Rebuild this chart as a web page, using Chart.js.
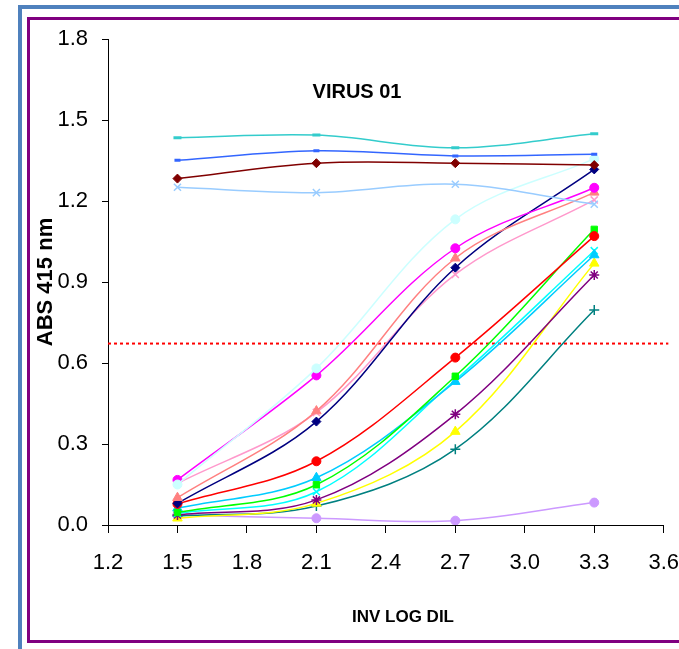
<!DOCTYPE html>
<html>
<head>
<meta charset="utf-8">
<script src="https://cdn.jsdelivr.net/npm/chart.js@4.4.1/dist/chart.umd.min.js"></script>
<style>
  html, body { margin: 0; padding: 0; background: #fff; overflow: hidden; }
  #wrap { position: relative; width: 679px; height: 649px; overflow: hidden; }
  #outer { position: absolute; left: 18px; top: 5px; width: 700px; height: 700px;
    border-left: 4px solid #4f81bd; border-top: 4px solid #4f81bd; }
  #inner { position: absolute; left: 27px; top: 17px; width: 700px; height: 620px;
    border-left: 3px solid #800080; border-top: 3px solid #800080; border-bottom: 3px solid #800080; }
  canvas { position: absolute; left: 0; top: 0; }
</style>
</head>
<body>
<div id="wrap">
  <div id="outer"></div>
  <div id="inner"></div>
  <!-- the original picture is cropped on the right, so the canvas runs past the window -->
  <canvas id="chart" width="696" height="649"></canvas>
</div>
<script>
// dilutions (x) and readings per sample
const dilutions = [1.5, 2.1, 2.7, 3.3];
const xTickValues = [1.2, 1.5, 1.8, 2.1, 2.4, 2.7, 3.0, 3.3, 3.6];
const yTickValues = [0.0, 0.3, 0.6, 0.9, 1.2, 1.5, 1.8];

const sTurq     = [1.434, 1.444, 1.397, 1.449];
const sBlue     = [1.351, 1.386, 1.367, 1.373];
const sMaroon   = [1.283, 1.340, 1.340, 1.333];
const sPaleBlue = [1.251, 1.231, 1.262, 1.188];
const sIce      = [0.150, 0.580, 1.132, 1.356];
const sMagenta  = [0.167, 0.554, 1.025, 1.249];
const sSalmon   = [0.101, 0.422, 0.988, 1.232];
const sNavy     = [0.080, 0.383, 0.953, 1.317];
const sPink     = [0.154, 0.417, 0.928, 1.204];
const sRed      = [0.078, 0.236, 0.620, 1.070];
const sGreen    = [0.046, 0.149, 0.551, 1.095];
const sSky      = [0.062, 0.175, 0.531, 1.000];
const sCyan     = [0.043, 0.123, 0.537, 1.016];
const sPurple   = [0.037, 0.093, 0.410, 0.926];
const sYellow   = [0.025, 0.080, 0.346, 0.969];
const sTeal     = [0.033, 0.070, 0.281, 0.796];
const sLavender = [0.037, 0.025, 0.016, 0.083];

const cutoff = 0.672;
const cutoffRange = [1.2, 3.62];

function pts(vals) {
  return vals.map((v, i) => ({ x: dilutions[i], y: v }));
}

function series(vals, color, style, radius, width) {
  return {
    data: pts(vals),
    borderColor: color,
    backgroundColor: color,
    borderWidth: 1.5,
    pointStyle: style,
    pointRadius: radius,
    pointBorderWidth: width || 1,
    pointBorderColor: color,
    pointBackgroundColor: color,
    tension: 0.35
  };
}

const datasets = [
  series(sTurq, "#33cccc", "line", 4, 3),
  series(sBlue, "#3366ff", "line", 3, 3),
  series(sMaroon, "#800000", "rectRot", 4.5),
  series(sPaleBlue, "#99ccff", "crossRot", 5, 1.5),
  series(sIce, "#ccffff", "circle", 4.5),
  series(sMagenta, "#ff00ff", "circle", 4.5),
  series(sSalmon, "#ff8080", "triangle", 5.5),
  series(sNavy, "#000080", "rectRot", 4.5),
  series(sPink, "#ff99cc", "crossRot", 5, 1.5),
  series(sRed, "#ff0000", "circle", 4.5),
  series(sGreen, "#00ff00", "rect", 4.5),
  series(sSky, "#00ccff", "triangle", 5.5),
  series(sCyan, "#00ffff", "crossRot", 5, 1.5),
  series(sPurple, "#800080", "star", 5, 1.5),
  series(sYellow, "#ffff00", "triangle", 5.5),
  series(sTeal, "#008080", "cross", 5, 1.5),
  series(sLavender, "#cc99ff", "circle", 4.5),
  {
    data: cutoffRange.map(x => ({ x: x, y: cutoff })),
    borderColor: "#ff0000",
    borderWidth: 2,
    borderDash: [3, 3],
    pointRadius: 0,
    clip: false
  }
];

const face = "'Liberation Sans', Arial, sans-serif";

// chart title inside the plot + x axis title (sits right of centre in the original)
const textPlugin = {
  id: "extraText",
  afterDraw(chart) {
    const ctx = chart.ctx;
    ctx.save();
    ctx.fillStyle = "#000";
    ctx.textAlign = "center";
    ctx.textBaseline = "middle";
    ctx.font = "bold 20px " + face;
    ctx.fillText("VIRUS 01", 357, 92);
    ctx.font = "bold 17px " + face;
    ctx.fillText("INV LOG DIL", 403, 617);
    ctx.restore();
  }
};

new Chart(document.getElementById("chart"), {
  type: "line",
  data: { datasets },
  plugins: [textPlugin],
  options: {
    responsive: false,
    animation: false,
    layout: { padding: { top: 39, right: 0, bottom: 0, left: 0 } },
    plugins: { legend: { display: false }, tooltip: { enabled: false } },
    scales: {
      x: {
        type: "linear",
        min: 1.2,
        max: 3.6,
        afterBuildTicks: s => { s.ticks = xTickValues.map(v => ({ value: v })); },
        afterFit: s => { s.height = 124; },
        grid: { display: true, drawOnChartArea: false, drawTicks: true, tickLength: 8, color: "#000" },
        border: { display: true, color: "#000", width: 1 },
        ticks: {
          padding: 17,
          color: "#000",
          font: { family: face, size: 22 },
          maxRotation: 0,
          callback: v => Number(v).toFixed(1)
        }
      },
      y: {
        min: 0,
        max: 1.8,
        afterBuildTicks: s => { s.ticks = yTickValues.map(v => ({ value: v })); },
        afterFit: s => { s.width = 108; },
        grid: { display: true, drawOnChartArea: false, drawTicks: true, tickLength: 6, color: "#000" },
        border: { display: true, color: "#000", width: 1 },
        ticks: {
          padding: 14,
          color: "#000",
          font: { family: face, size: 22 },
          callback: v => Number(v).toFixed(1)
        },
        title: {
          display: true,
          text: "ABS 415 nm",
          color: "#000",
          font: { family: face, size: 22, weight: "bold" },
          padding: { top: 33, bottom: 0 }
        }
      }
    }
  }
});
</script>
</body>
</html>
